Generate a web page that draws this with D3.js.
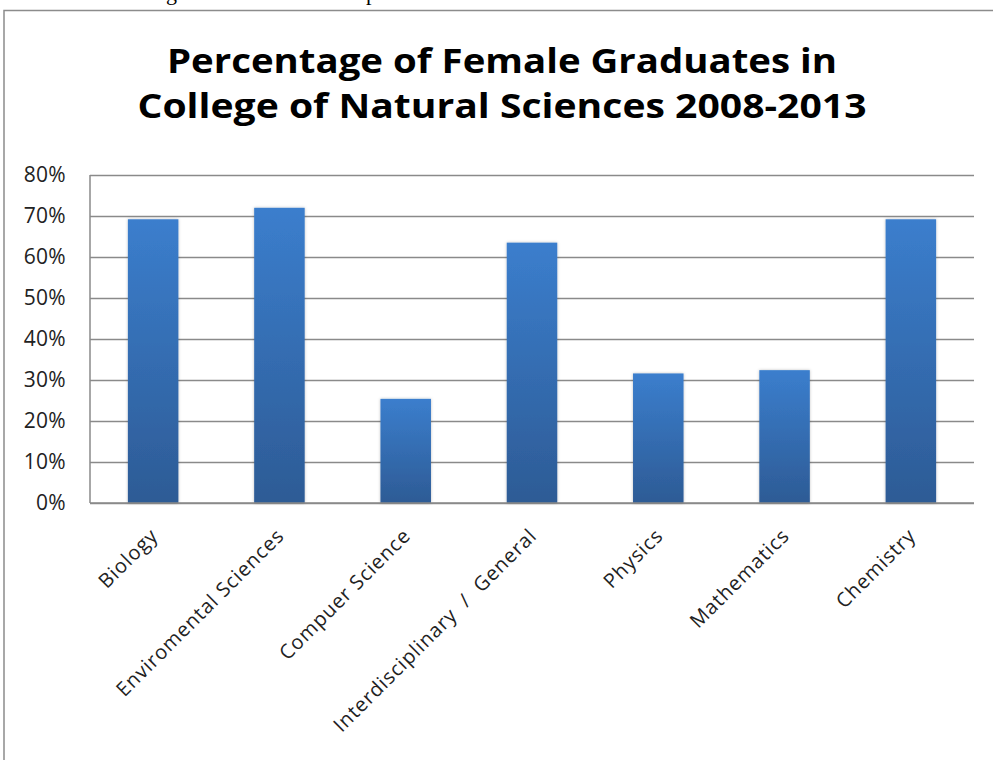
<!DOCTYPE html>
<html>
<head>
<meta charset="utf-8">
<script src="https://cdn.jsdelivr.net/npm/d3@7/dist/d3.min.js"></script>
<style>
  html, body { margin: 0; padding: 0; background: #fff; }
  svg { display: block; }
</style>
</head>
<body>
<svg id="chart" width="993" height="760"></svg>
<script>
const titleLines = ["Percentage of Female Graduates in", "College of Natural Sciences 2008-2013"];
const categories = ["Biology", "Enviromental Sciences", "Compuer Science", "Interdisciplinary  /  General", "Physics", "Mathematics", "Chemistry"];
const values = [0.692, 0.720, 0.254, 0.635, 0.316, 0.324, 0.692];
const yTicks = [0, 0.1, 0.2, 0.3, 0.4, 0.5, 0.6, 0.7, 0.8];

const svg = d3.select("#chart");
const W = 993, H = 760;
const margin = { left: 90, right: 19, top: 175, bottom: 257 };
const plotW = W - margin.left - margin.right;
const plotH = H - margin.top - margin.bottom;

const defs = svg.append("defs");
const grad = defs.append("linearGradient").attr("id", "barGrad")
  .attr("x1", 0).attr("y1", 0).attr("x2", 0).attr("y2", 1);
grad.append("stop").attr("offset", "0%").attr("stop-color", "#3b7ecd");
grad.append("stop").attr("offset", "100%").attr("stop-color", "#2d5b95");
const filt = defs.append("filter").attr("id", "shadow").attr("x", "-20%").attr("y", "-5%").attr("width", "140%").attr("height", "110%");
filt.append("feDropShadow").attr("dx", 0).attr("dy", 0).attr("stdDeviation", 1.5).attr("flood-color", "#000").attr("flood-opacity", 0.25);

// cut-off text from above (descenders only)
svg.append("text").attr("x", 166).attr("y", 0).attr("font-family", "Liberation Serif").attr("font-size", 22).text("g");
svg.append("text").attr("x", 366).attr("y", 0).attr("font-family", "Liberation Serif").attr("font-size", 22).text("p");

// outer frame
svg.append("rect").attr("x", 4).attr("y", 10.5).attr("width", W + 10).attr("height", H + 10)
  .attr("fill", "none").attr("stroke", "#8c8c8c").attr("stroke-width", 1.5);

// title
const title = svg.append("g");
const titleTargets = [{ w: 670, y: 73 }, { w: 729, y: 118 }];
titleLines.forEach((t, i) => {
  title.append("text")
    .attr("x", 502).attr("y", titleTargets[i].y)
    .attr("text-anchor", "middle")
    .attr("font-family", "'Open Sans', sans-serif")
    .attr("font-weight", "bold")
    .attr("font-size", 34)
    .attr("textLength", titleTargets[i].w)
    .attr("lengthAdjust", "spacingAndGlyphs")
    .attr("fill", "#000")
    .text(t);
});

const g = svg.append("g").attr("transform", `translate(${margin.left},${margin.top})`);

const x = d3.scaleBand().domain(categories).range([0, plotW]).paddingInner(0.6).paddingOuter(0.3);
const y = d3.scaleLinear().domain([0, 0.8]).range([plotH, 0]);

// gridlines
const yAxis = d3.axisLeft(y).tickValues(yTicks).tickFormat(d3.format(".0%")).tickSize(-plotW).tickPadding(24);
const ya = g.append("g").call(yAxis);
ya.select(".domain").remove();
ya.selectAll(".tick line").attr("stroke", "#8a8a8a").attr("stroke-width", 1.5);
ya.selectAll(".tick text")
  .attr("font-family", "'Open Sans', sans-serif")
  .attr("font-size", 21)
  .attr("letter-spacing", 0.3)
  .attr("fill", "#222");

// left axis line
g.append("line").attr("x1", 0).attr("x2", 0).attr("y1", 0).attr("y2", plotH)
  .attr("stroke", "#8a8a8a").attr("stroke-width", 1.5);

// bars
g.selectAll("rect.bar").data(values).join("rect")
  .attr("class", "bar")
  .attr("x", (d, i) => x(categories[i]))
  .attr("width", x.bandwidth())
  .attr("y", d => y(d))
  .attr("height", d => plotH - y(d))
  .attr("fill", "url(#barGrad)")
  .attr("filter", "url(#shadow)");

// bottom axis line
g.append("line").attr("x1", 0).attr("x2", plotW).attr("y1", plotH).attr("y2", plotH)
  .attr("stroke", "#8a8a8a").attr("stroke-width", 1.5);

// category labels
const xAxis = d3.axisBottom(x).tickSize(0).tickPadding(0);
const xa = g.append("g").attr("transform", `translate(0,${plotH})`).call(xAxis);
xa.select(".domain").remove();
xa.selectAll(".tick text")
  .style("white-space", "pre")
  .attr("font-family", "'Open Sans', sans-serif")
  .attr("font-size", 20)
  .attr("letter-spacing", 0.9)
  .attr("fill", "#222")
  .attr("text-anchor", "end")
  .attr("dy", 0)
  .attr("y", 0)
  .attr("transform", "translate(6,34) rotate(-45)");
</script>
</body>
</html>
